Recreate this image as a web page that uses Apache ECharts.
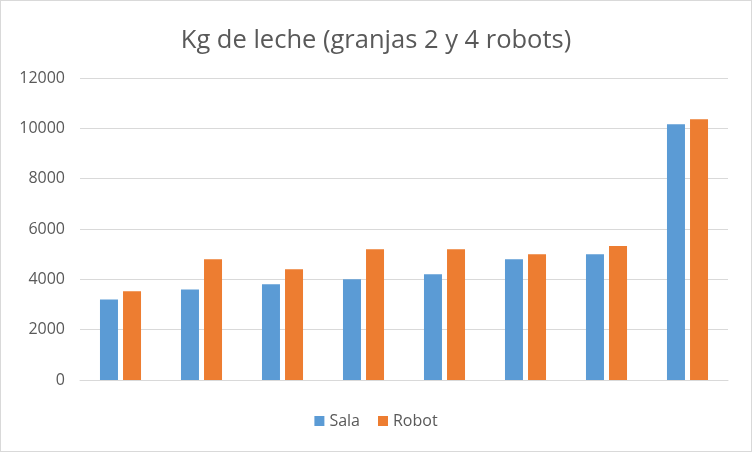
<!DOCTYPE html>
<html><head><meta charset="utf-8">
<script src="https://cdn.jsdelivr.net/npm/echarts@6/dist/echarts.min.js"></script>
<style>html,body{margin:0;padding:0;background:#fff}#c{width:752px;height:452px;box-sizing:border-box;border:1px solid #d9d9d9}</style>
</head><body><div id="c"></div>
<script>
const categories = ['1','2','3','4','5','6','7','8'];
const sala = [3200, 3600, 3800, 4000, 4200, 4800, 5000, 10160];
const robot = [3530, 4800, 4400, 5200, 5200, 5000, 5320, 10360];
const yTicks = [0, 2000, 4000, 6000, 8000, 10000, 12000];
const chart = echarts.init(document.getElementById('c'), null, {renderer:'canvas'});
chart.setOption({
  animation:false,
  title:{text:'Kg de leche (granjas 2 y 4 robots)', left:'center', top:22,
    textStyle:{fontFamily:'Open Sans', fontSize:25.5, fontWeight:'normal', color:'#595959'}},
  legend:{bottom:17, left:'center', itemWidth:10, itemHeight:10, itemGap:18, icon:'rect',
    textStyle:{fontFamily:'Open Sans', fontSize:16, color:'#595959'}},
  grid:{left:79, right:23, top:77, bottom:71},
  xAxis:{type:'category', data:categories, axisTick:{show:false}, axisLabel:{show:false},
    axisLine:{lineStyle:{color:'#d9d9d9'}}},
  yAxis:{type:'value', min:yTicks[0], max:yTicks[yTicks.length-1], interval:2000,
    axisLabel:{fontFamily:'Open Sans', fontSize:16, color:'#595959', margin:15, formatter:v=>String(v)},
    splitLine:{lineStyle:{color:'#d9d9d9'}}, axisLine:{show:false}, axisTick:{show:false}},
  series:[
    {name:'Sala', type:'bar', data:sala, barWidth:18, barGap:'28%', itemStyle:{color:'#5B9BD5'}},
    {name:'Robot', type:'bar', data:robot, barWidth:18, itemStyle:{color:'#ED7D31'}}
  ]
});
</script></body></html>
